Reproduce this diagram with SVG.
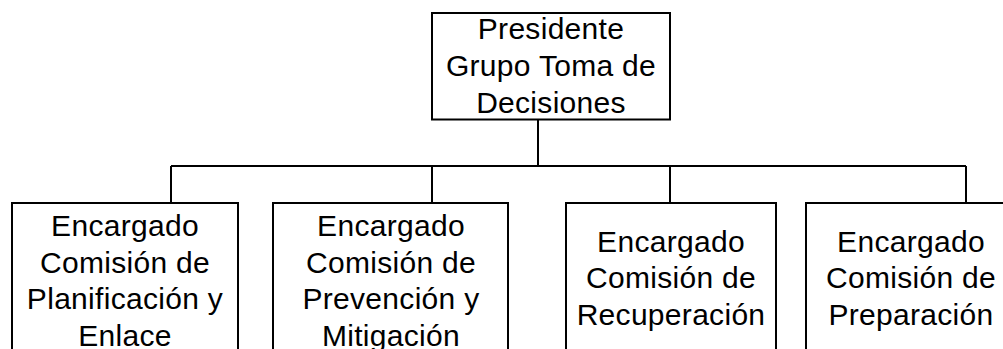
<svg xmlns="http://www.w3.org/2000/svg" width="1003" height="349" viewBox="0 0 1003 349">
<style>
.box{fill:#fff;stroke:#000;stroke-width:2}
.conn{fill:none;stroke:#000;stroke-width:2}
text{font-family:"Liberation Sans",Arial,sans-serif;font-size:30px;fill:#000;text-anchor:middle;letter-spacing:0.3px}
</style>
<rect width="1003" height="349" fill="#fff"/>
<g id="connectors">
<path class="conn" d="M538,120 V166 M171,166 H966 M171,166 V203 M432,166 V203 M670,166 V203 M966,166 V203"/>
</g>
<g id="presidente">
<rect class="box" x="432" y="13" width="238" height="106.5"/>
<text x="551" y="39.3">Presidente</text>
<text x="551" y="76">Grupo Toma de</text>
<text x="551" y="112.7">Decisiones</text>
</g>
<g id="planificacion">
<rect class="box" x="12" y="203" width="226" height="160"/>
<text x="125" y="236">Encargado</text>
<text x="125" y="272.7">Comisión de</text>
<text x="125" y="309.4">Planificación y</text>
<text x="125" y="346.1">Enlace</text>
</g>
<g id="prevencion">
<rect class="box" x="273" y="203" width="235" height="160"/>
<text x="391" y="236">Encargado</text>
<text x="391" y="272.7">Comisión de</text>
<text x="391" y="309.4">Prevención y</text>
<text x="391" y="346.1">Mitigación</text>
</g>
<g id="recuperacion">
<rect class="box" x="566" y="203" width="210" height="160"/>
<text x="671" y="251.7">Encargado</text>
<text x="671" y="288.4">Comisión de</text>
<text x="671" y="325.1">Recuperación</text>
</g>
<g id="preparacion">
<rect class="box" x="806" y="203" width="210" height="160"/>
<text x="911" y="251.7">Encargado</text>
<text x="911" y="288.4">Comisión de</text>
<text x="911" y="325.1">Preparación</text>
</g>
</svg>
